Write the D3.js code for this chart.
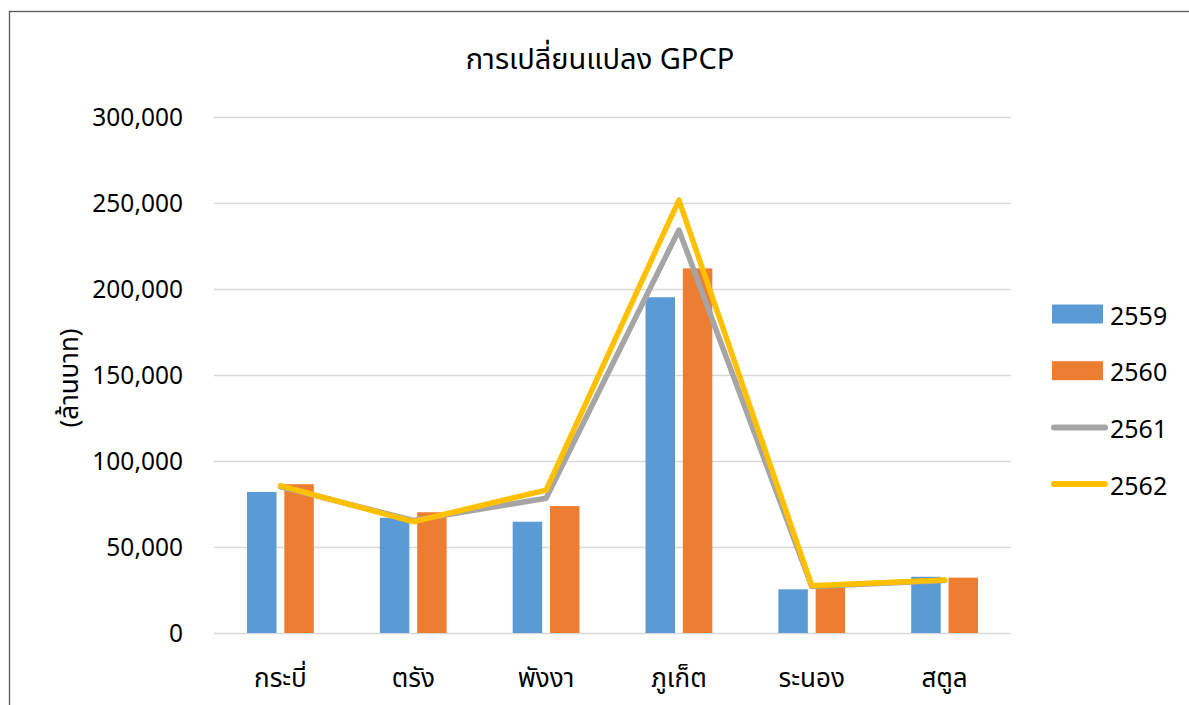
<!DOCTYPE html>
<html>
<head>
<meta charset="utf-8">
<script src="https://cdn.jsdelivr.net/npm/d3@7"></script>
<style>
  body { margin: 0; background: #fff; }
  svg { display: block; }
  text { font-family: Tahoma, "Noto Sans Thai", "Noto Sans", "DejaVu Sans", sans-serif; fill: #000; }
</style>
</head>
<body>
<div id="chart"></div>
<script>
// data (ล้านบาท)
const categories = ['กระบี่', 'ตรัง', 'พังงา', 'ภูเก็ต', 'ระนอง', 'สตูล'];
const barYears = ['2559', '2560'];
const lineYears = ['2561', '2562'];
const gpcp2559 = [82000, 67000, 64700, 195200, 25400, 32700];
const gpcp2560 = [86500, 70200, 73800, 212000, 27500, 32200];
const gpcp2561 = [85000, 65500, 78300, 234300, 27000, 30500];
const gpcp2562 = [85600, 64700, 83100, 251700, 27500, 30800];
const yTicks = [0, 50000, 100000, 150000, 200000, 250000, 300000];

const colors = {
  '2559': '#5B9BD5',
  '2560': '#ED7D31',
  '2561': '#A5A5A5',
  '2562': '#FFC000',
};

const width = 1189;
const height = 705;
const plot = { left: 214, right: 1011, top: 117, bottom: 633 };

const svg = d3.select('#chart')
  .append('svg')
  .attr('width', width)
  .attr('height', height);

// chart frame (only left + top edges fall inside the picture)
svg.append('rect')
  .attr('x', 9.5)
  .attr('y', 11.5)
  .attr('width', 1300)
  .attr('height', 900)
  .attr('fill', 'none')
  .attr('stroke', '#595959')
  .attr('stroke-width', 1.3);

const x = d3.scaleBand()
  .domain(categories)
  .range([plot.left, plot.right]);

const xSeries = d3.scaleBand()
  .domain(barYears)
  .range([-33.4, 33.4])
  .paddingInner(0.21);

const y = d3.scaleLinear()
  .domain([0, 300000])
  .range([plot.bottom, plot.top]);

// gridlines + y labels
const yAxis = d3.axisLeft(y)
  .tickValues(yTicks)
  .tickFormat(d3.format(','))
  .tickSize(-(plot.right - plot.left))
  .tickPadding(31);

svg.append('g')
  .attr('class', 'y axis')
  .attr('transform', `translate(${plot.left},0)`)
  .call(yAxis)
  .call(g => g.select('.domain').remove())
  .call(g => g.selectAll('.tick line').attr('stroke', '#d9d9d9').attr('stroke-width', 1.5))
  .call(g => g.selectAll('.tick text')
    .style('font-size', '24.5px')
    .attr('dy', '0.36em'));

// x labels
const xAxis = d3.axisBottom(x)
  .tickSize(0)
  .tickPadding(36);

svg.append('g')
  .attr('class', 'x axis')
  .attr('transform', `translate(0,${plot.bottom})`)
  .call(xAxis)
  .call(g => g.select('.domain').remove())
  .call(g => g.selectAll('.tick text').style('font-size', '26px'));

// bars
const barData = [gpcp2559, gpcp2560];
barData.forEach((vals, si) => {
  const year = barYears[si];
  svg.append('g')
    .attr('class', 'bars')
    .selectAll('rect')
    .data(vals)
    .join('rect')
    .attr('x', (d, i) => x(categories[i]) + x.bandwidth() / 2 + xSeries(year))
    .attr('y', d => y(d))
    .attr('width', xSeries.bandwidth())
    .attr('height', d => y(0) - y(d))
    .attr('fill', colors[year]);
});

// lines
const line = d3.line()
  .x((d, i) => x(categories[i]) + x.bandwidth() / 2)
  .y(d => y(d));

[gpcp2561, gpcp2562].forEach((vals, si) => {
  svg.append('path')
    .datum(vals)
    .attr('d', line)
    .attr('fill', 'none')
    .attr('stroke', colors[lineYears[si]])
    .attr('stroke-width', 5.5)
    .attr('stroke-linejoin', 'round')
    .attr('stroke-linecap', 'round');
});

// title
svg.append('text')
  .attr('x', 600)
  .attr('y', 69)
  .attr('text-anchor', 'middle')
  .style('font-size', '29px')
  .text('การเปลี่ยนแปลง GPCP');

// y axis title
svg.append('text')
  .attr('transform', 'translate(78,378) rotate(-90)')
  .attr('text-anchor', 'middle')
  .style('font-size', '26px')
  .text('(ล้านบาท)');

// legend
const legendYears = barYears.concat(lineYears);
const legend = svg.append('g')
  .attr('class', 'legend')
  .selectAll('g')
  .data(legendYears)
  .join('g')
  .attr('transform', (d, i) => `translate(1052,${314 + i * 56.7})`);

legend.filter(d => barYears.includes(d))
  .append('rect')
  .attr('x', 0)
  .attr('y', -9.5)
  .attr('width', 51)
  .attr('height', 19)
  .attr('fill', d => colors[d]);

legend.filter(d => lineYears.includes(d))
  .append('line')
  .attr('x1', 2)
  .attr('x2', 53)
  .attr('stroke', d => colors[d])
  .attr('stroke-width', 6)
  .attr('stroke-linecap', 'round');

legend.append('text')
  .attr('x', 58)
  .attr('dy', '0.42em')
  .style('font-size', '25px')
  .text(d => d);
</script>
</body>
</html>
